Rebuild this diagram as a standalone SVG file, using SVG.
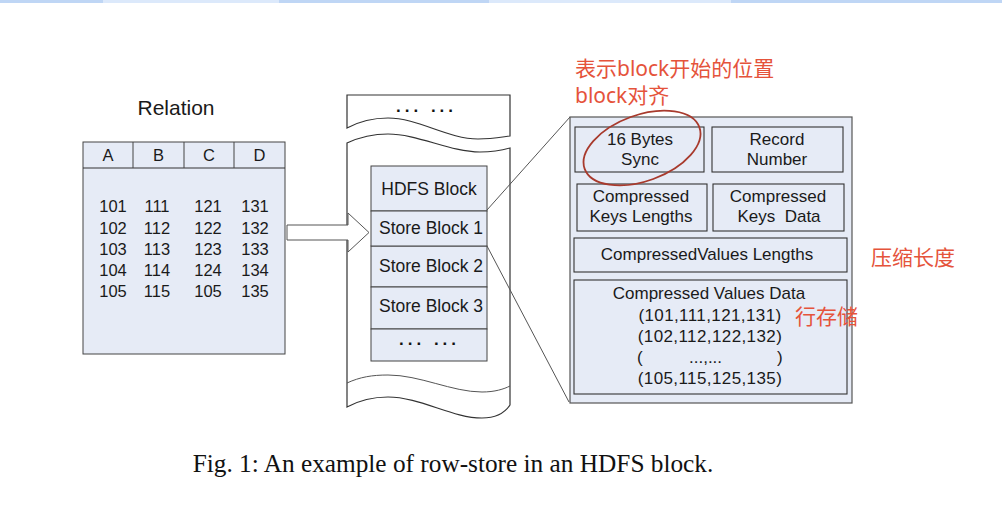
<svg xmlns="http://www.w3.org/2000/svg" width="1002" height="512" viewBox="0 0 1002 512">
<style>
.box{fill:#e6ebf6;stroke:#444;stroke-width:1}
.ibox{fill:#e6ebf6;stroke:#333;stroke-width:1.1}
.t{font-family:"Liberation Sans",Arial,sans-serif;fill:#1a1a1a}
.tc{text-anchor:middle}
.red{font-family:"Noto Sans","Noto Sans CJK SC",sans-serif;fill:#e5533b;font-size:21px}
.edge{fill:none;stroke:#555;stroke-width:1}
.scroll{fill:#fff;stroke:#333;stroke-width:1.2}
.dots{font-family:"Liberation Sans",Arial,sans-serif;font-weight:bold;font-size:17px;letter-spacing:4px;fill:#111}
</style>
<rect width="1002" height="512" fill="#fff"/>
<g id="topbar">
<rect x="0" y="0" width="103" height="3" fill="#bfd6f5"/>
<rect x="103" y="0" width="176" height="3" fill="#dce9fb"/>
<rect x="279" y="0" width="210" height="3" fill="#bfd6f5"/>
<rect x="489" y="0" width="242" height="3" fill="#dce9fb"/>
<rect x="731" y="0" width="271" height="3" fill="#bfd6f5"/>
</g>
<g id="relation">
<text class="t tc" x="176" y="115" font-size="21">Relation</text>
<rect class="box" x="83" y="142" width="202" height="212"/>
<line x1="83" y1="168" x2="285" y2="168" stroke="#333" stroke-width="1.2"/>
<line x1="133" y1="142" x2="133" y2="168" stroke="#444"/>
<line x1="184" y1="142" x2="184" y2="168" stroke="#444"/>
<line x1="234" y1="142" x2="234" y2="168" stroke="#444"/>
<g class="t tc" font-size="16.5">
<text x="108" y="161">A</text><text x="158.5" y="161">B</text><text x="209" y="161">C</text><text x="259.5" y="161">D</text>
</g>
<g class="t tc" font-size="16.5">
<text x="113" y="212">101</text><text x="157" y="212">111</text><text x="208" y="212">121</text><text x="255" y="212">131</text>
<text x="113" y="233.5">102</text><text x="157" y="233.5">112</text><text x="208" y="233.5">122</text><text x="255" y="233.5">132</text>
<text x="113" y="254.5">103</text><text x="157" y="254.5">113</text><text x="208" y="254.5">123</text><text x="255" y="254.5">133</text>
<text x="113" y="276">104</text><text x="157" y="276">114</text><text x="208" y="276">124</text><text x="255" y="276">134</text>
<text x="113" y="297">105</text><text x="157" y="297">115</text><text x="208" y="297">105</text><text x="255" y="297">135</text>
</g>
</g>
<g id="hdfs-scroll">
<path class="scroll" d="M347,128 V95 H510 V136 C502,137 492,139 478,139 C448,139 418,118 388,118 C372,118 360,121 347,128 Z"/>
<text class="dots" x="396" y="112">... ...</text>
<path class="scroll" d="M347,143 C360,137 372,134 388,134 C418,134 450,152 480,152 C493,152 503,150 510,148 V405 C504,414 495,418 482,418 C452,418 420,397 388,397 C372,397 360,400 347,407 Z"/>
<path class="edge" stroke="#333" stroke-width="1.2" d="M347,383 C360,377 372,375 388,375 C420,375 452,392 482,392 C495,392 504,389 510,386"/>
</g>
<g id="arrow">
<polygon points="287,225 348,225 348,213 369,232.5 348,252 348,240 287,240" fill="#fff" stroke="#555" stroke-width="1"/>
</g>
<g id="store-blocks">
<g id="hdfs-block"><rect class="box" x="371" y="166" width="116" height="45"/><text class="t tc" x="429" y="195" font-size="17.5">HDFS Block</text></g>
<g id="store-block-2"><rect class="box" x="371" y="246" width="116" height="41"/><text class="t tc" x="431" y="272" font-size="17.5">Store Block 2</text></g>
<g id="store-block-3"><rect class="box" x="371" y="287" width="116" height="42"/><text class="t tc" x="431" y="312" font-size="17.5">Store Block 3</text></g>
<g id="more-blocks"><rect class="box" x="371" y="329" width="116" height="32"/><text class="dots" x="399" y="345">... ...</text></g>
<g id="store-block-1"><rect class="box" x="371" y="211" width="116" height="35" stroke="#222" stroke-width="1.8"/><text class="t tc" x="431" y="234" font-size="17.5">Store Block 1</text></g>
</g>
<g id="connectors">
<line class="edge" x1="487" y1="210" x2="570" y2="117"/>
<line class="edge" x1="487" y1="246" x2="569" y2="402"/>
</g>
<g id="detail-panel">
<rect x="570" y="117" width="282" height="286" fill="#e6ebf6" stroke="#555" stroke-width="1.2"/>
<g id="sync"><rect class="ibox" x="575" y="127" width="129" height="45"/><text class="t tc" x="640" y="145" font-size="17">16 Bytes</text><text class="t tc" x="640" y="165" font-size="17">Sync</text></g>
<g id="record-number"><rect class="ibox" x="712" y="127" width="131" height="45"/><text class="t tc" x="777" y="145" font-size="17">Record</text><text class="t tc" x="777" y="165" font-size="17">Number</text></g>
<g id="keys-lengths"><rect class="ibox" x="577" y="184" width="130" height="47"/><text class="t tc" x="641" y="202" font-size="17">Compressed</text><text class="t tc" x="641" y="222" font-size="17">Keys Lengths</text></g>
<g id="keys-data"><rect class="ibox" x="713" y="184" width="131" height="47"/><text class="t tc" x="778" y="202" font-size="17">Compressed</text><text class="t tc" x="779" y="222" font-size="17" xml:space="preserve">Keys  Data</text></g>
<g id="values-lengths"><rect class="ibox" x="574" y="238" width="273" height="34"/><text class="t tc" x="707" y="260" font-size="17">CompressedValues Lengths</text></g>
<g id="values-data"><rect class="ibox" x="574" y="280" width="273" height="114"/>
<text class="t tc" x="709" y="299" font-size="17">Compressed Values Data</text>
<g class="t tc" font-size="17" letter-spacing="0.4">
<text x="710" y="321">(101,111,121,131)</text>
<text x="710" y="342">(102,112,122,132)</text>
<text x="710" y="384">(105,115,125,135)</text>
</g>
<text class="t" font-size="17" y="363"><tspan x="637">(</tspan><tspan x="689">...,...</tspan><tspan x="777">)</tspan></text>
</g>
</g>
<g id="annotations">
<ellipse cx="642" cy="148" rx="61" ry="33" transform="rotate(-20 642 148)" fill="none" stroke="#a83a2d" stroke-width="1.8"/>
<text class="red" x="575" y="76">表示block开始的位置</text>
<text class="red" x="575" y="103">block对齐</text>
<text class="red" x="871" y="265">压缩长度</text>
<text class="red" x="795" y="324">行存储</text>
</g>
<text id="caption" x="453" y="472" text-anchor="middle" font-family="'Liberation Serif','Times New Roman',serif" font-size="25.3" fill="#111">Fig. 1: An example of row-store in an HDFS block.</text>
</svg>
